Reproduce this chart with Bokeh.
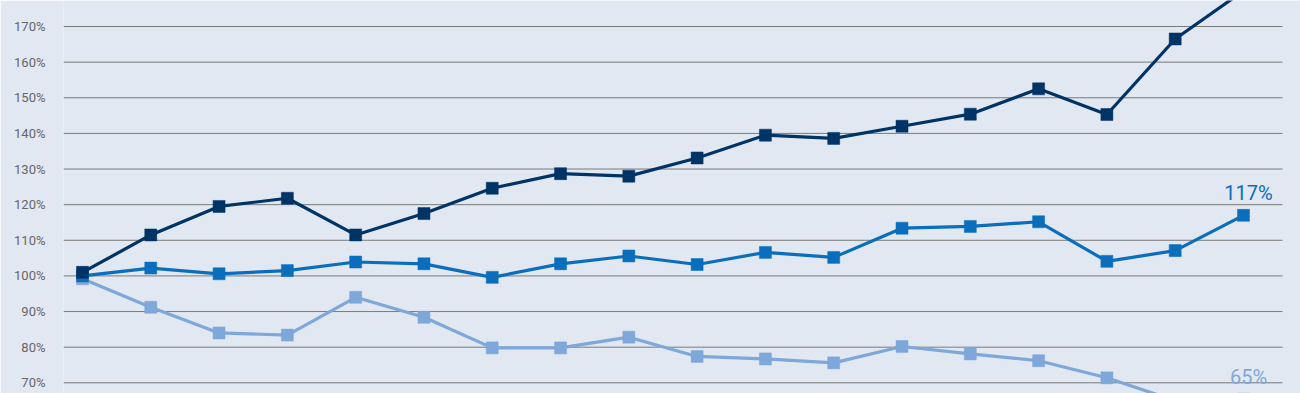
from bokeh.plotting import figure
from bokeh.models import ColumnDataSource, FixedTicker, PrintfTickFormatter, Range1d
from bokeh.core.properties import value
from bokeh.embed import file_html
from bokeh.resources import INLINE

periods = list(range(18))
series_dark = [101.0, 111.5, 119.5, 121.8, 111.5, 117.5, 124.6, 128.7, 128.0, 133.1, 139.5, 138.6, 142.0, 145.4, 152.5, 145.3, 166.5, 180.0]
series_mid = [100.0, 102.2, 100.6, 101.5, 103.9, 103.4, 99.6, 103.4, 105.6, 103.2, 106.6, 105.2, 113.4, 113.9, 115.2, 104.1, 107.1, 117.0]
series_light = [99.2, 91.2, 84.0, 83.4, 94.0, 88.4, 79.8, 79.8, 82.8, 77.4, 76.7, 75.6, 80.2, 78.1, 76.2, 71.4, 65.0, 65.4]
y_ticks = [70, 80, 90, 100, 110, 120, 130, 140, 150, 160, 170]
end_labels = ["117%", "65%"]

BG = "#e1e8f2"
C_DARK = "#003366"
C_MID = "#0a6ebd"
C_LIGHT = "#7ea7da"

X0, X1 = -0.278, 17.835   # frame spans to the right page edge
GRID_END = 17.571         # grid lines stop a little before the edge

p = figure(width=1300, height=393, output_backend="svg", toolbar_location=None,
           x_range=Range1d(X0, X1), y_range=Range1d(67.0, 177.3),
           min_border_left=63, min_border_right=0, min_border_top=0, min_border_bottom=0)
p.background_fill_color = BG
p.border_fill_color = BG
p.outline_line_color = None
p.xaxis.visible = False
p.xgrid.visible = False
p.ygrid.visible = False

ax = p.yaxis[0]
ax.ticker = FixedTicker(ticks=y_ticks)
ax.formatter = PrintfTickFormatter(format="%d%%")
ax.axis_line_color = None
ax.major_tick_line_color = None
ax.minor_tick_line_color = None
ax.major_label_standoff = 12
ax.major_label_text_font = "Roboto"
ax.major_label_text_font_size = "13px"
ax.major_label_text_color = "#666666"

grid = ColumnDataSource(dict(x0=[X0] * len(y_ticks), x1=[GRID_END] * len(y_ticks), y=y_ticks))
p.segment(x0="x0", y0="y", x1="x1", y1="y", source=grid, line_color="#7a7a7a", line_width=1)

src = ColumnDataSource(dict(x=periods, dark=series_dark, mid=series_mid, light=series_light))

for col, color in [("light", C_LIGHT), ("mid", C_MID), ("dark", C_DARK)]:
    p.line("x", col, source=src, line_color=color, line_width=3.2)
    p.scatter("x", col, source=src, marker="square", size=12, fill_color=color, line_color=color, line_width=0.5)

lab = ColumnDataSource(dict(x=[periods[-1], periods[-1]], y=[series_mid[-1], series_light[-1]],
                            t=end_labels, c=[C_MID, C_LIGHT]))
p.text("x", "y", text="t", source=lab, text_color="c", text_font=value("Roboto"),
       text_font_size="20px", text_align="center", text_baseline="alphabetic",
       x_offset=5, y_offset=-22)

open("out.html", "w").write(file_html(p, INLINE))
